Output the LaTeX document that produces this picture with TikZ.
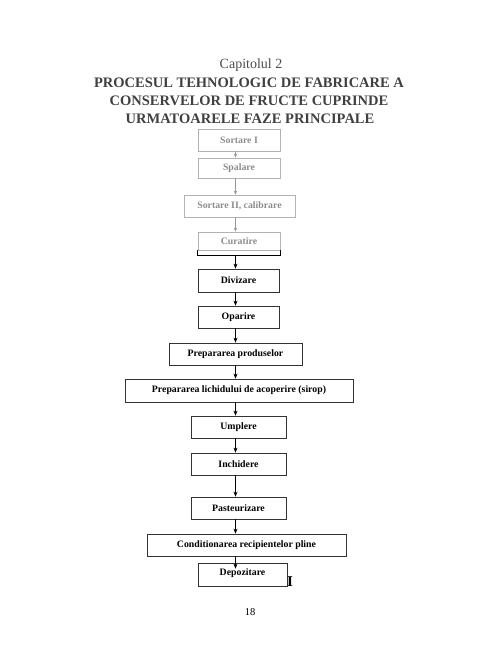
\documentclass[tikz,border=0pt]{standalone}
\usepackage{fontspec}
\setmainfont{Liberation Serif}
\usetikzlibrary{arrows.meta}
\begin{document}
\begin{tikzpicture}[x=1pt,y=-1pt,
  box/.style={draw=black!80, line width=0.7pt, inner sep=0pt, font=\bfseries\fontsize{9.8}{11}\selectfont, text=black},
  fadebox/.style={box, draw=black!30, text=black!45},
  arr/.style={draw=black, line width=0.7pt, -{Stealth[length=5pt,width=4pt]}},
  fadearr/.style={arr, draw=black!40, -{Stealth[length=4pt,width=3.5pt]}},
  title/.style={font=\bfseries\fontsize{14.5}{17}\selectfont, text=black!75}
]
\useasboundingbox (0,0) rectangle (500,647);
\coordinate (ax) at (235.5,0);
% title
\node[font=\fontsize{14}{16}\selectfont, text=black!70] (cap) at (251,65) {Capitolul 2};
\node[title] (t1) at (249,83) {PROCESUL TEHNOLOGIC DE FABRICARE A};
\node[title] (t2) at (249,101) {CONSERVELOR DE FRUCTE CUPRINDE};
\node[title] (t3) at (250,119) {URMATOARELE FAZE PRINCIPALE};
% faded boxes
\node[fadebox, minimum width=82, minimum height=22] (s1) at (239,140) {Sortare I};
\node[fadebox, minimum width=82, minimum height=20] (sp) at (239,168) {Spalare};
\node[fadebox, minimum width=111, minimum height=22] (s2) at (239.5,206) {Sortare II, calibrare};
\node[fadebox, minimum width=82, minimum height=18] (cu) at (239,241) {Curatire};
% main boxes
\node[box, minimum width=81, minimum height=23] (div) at (238.5,280.5) {Divizare};
\node[box, minimum width=81, minimum height=22] (op) at (238.5,317) {Oparire};
\node[box, minimum width=133, minimum height=22] (pp) at (235.5,354) {Prepararea produselor};
\node[box, minimum width=228, minimum height=23] (pl) at (239,390.5) {Prepararea lichidului de acoperire (sirop)};
\node[box, minimum width=95, minimum height=22] (um) at (238.5,427) {Umplere};
\node[box, minimum width=95, minimum height=22] (inc) at (238.5,464) {Inchidere};
\node[box, minimum width=95, minimum height=22] (pa) at (238.5,508) {Pasteurizare};
\node[box, minimum width=199, minimum height=22] (co) at (246.5,545) {Conditionarea recipientelor pline};
\node[box, minimum width=89, minimum height=23, text depth=5pt] (de) at (242.5,574.5) {Depozitare};
\node[font=\bfseries\fontsize{15}{17}\selectfont, anchor=south west, inner sep=0pt] (mI) at (287,587) {I};
\node[font=\fontsize{10.5}{12}\selectfont] (pg) at (250,612) {18};
% faded arrows
\draw[fadearr] (s1.south -| ax) -- (sp.north -| ax);
\draw[fadearr] (sp.south -| ax) -- (s2.north -| ax);
\draw[fadearr] (s2.south -| ax) -- (cu.north -| ax);
% bracket
\draw[line width=0.7pt] (cu.south west) -- ++(0,5) coordinate (bl) -| (cu.south east);
\draw[arr] (bl -| ax) -- (div.north -| ax);
\draw[arr] (div.south -| ax) -- (op.north -| ax);
\draw[arr] (op.south -| ax) -- (pp.north -| ax);
\draw[arr] (pp.south -| ax) -- (pl.north -| ax);
\draw[arr] (pl.south -| ax) -- (um.north -| ax);
\draw[arr] (um.south -| ax) -- (inc.north -| ax);
\draw[arr] (inc.south -| ax) -- (pa.north -| ax);
\draw[arr] (pa.south -| ax) -- (co.north -| ax);
\draw[arr] (co.south -| ax) -- ([yshift=-6pt]de.north -| ax);
\end{tikzpicture}
\end{document}
